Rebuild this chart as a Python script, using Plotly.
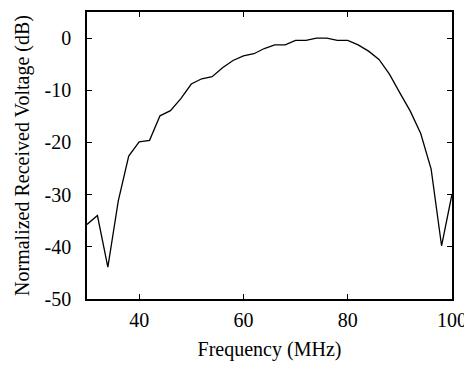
import plotly.graph_objects as go

freq_mhz = list(range(30, 101, 2))
voltage_db = [-35.7, -34.0, -43.9, -31.2, -22.6, -19.9, -19.6, -14.9, -13.9, -11.6,
              -8.8, -7.8, -7.4, -5.7, -4.3, -3.4, -3.0, -2.0, -1.3, -1.3,
              -0.45, -0.45, 0.0, 0.0, -0.45, -0.45, -1.3, -2.5, -4.1, -6.9,
              -10.5, -14.0, -18.3, -25.1, -39.8, -29.9]

x_tickvals = [40, 60, 80, 100]
x_ticktext = ["40", "60", "80", "100"]
y_tickvals = [0, -10, -20, -30, -40, -50]
y_ticktext = ["0", "-10", "-20", "-30", "-40", "-50"]

font = dict(family="Liberation Serif", size=20, color="black")

fig = go.Figure(go.Scatter(x=freq_mhz, y=voltage_db, mode="lines",
                           line=dict(color="black", width=1.3), showlegend=False))

axis_common = dict(showline=True, linecolor="black", linewidth=1.5, mirror="ticks",
                   ticks="inside", ticklen=5, tickwidth=1, tickcolor="black",
                   showgrid=False, zeroline=False, tickfont=font, automargin=False)

fig.update_xaxes(range=[30, 100], tickvals=x_tickvals, ticktext=x_ticktext,
                 ticklabelstandoff=2,
                 title=dict(text="Frequency (MHz)", font=font, standoff=12), **axis_common)
fig.update_yaxes(range=[-50, 5], tickvals=y_tickvals, ticktext=y_ticktext,
                 ticklabelstandoff=10,
                 title=dict(text="Normalized Received Voltage (dB)", font=font, standoff=10),
                 **axis_common)

fig.update_layout(width=464, height=360, margin=dict(l=79, r=20, t=4, b=69),
                  plot_bgcolor="white", paper_bgcolor="white", font=font)

fig.write_html("out.html")
